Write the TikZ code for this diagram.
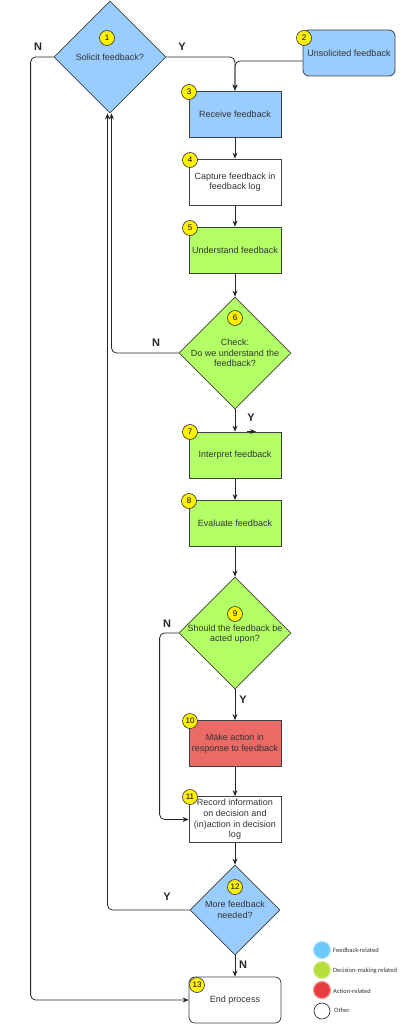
\documentclass[tikz,border=0pt]{standalone}
\usepackage{fontspec}
\setmainfont{Liberation Sans}
\newfontfamily\legendfont{Carlito}
\usetikzlibrary{shapes.geometric,arrows.meta,calc}
\definecolor{fbblue}{HTML}{99CCFF}
\definecolor{dmgreen}{HTML}{B3FF66}
\definecolor{actred}{HTML}{EA6B66}
\definecolor{txtgray}{HTML}{333333}
\definecolor{lgblue}{HTML}{6CC8FA}
\definecolor{lggreen}{HTML}{B5E03A}
\definecolor{lgred}{HTML}{E63E3E}
\begin{document}
\begin{tikzpicture}[x=1pt,y=-1pt,
  box/.style={draw=black!75, line width=0.8pt, minimum width=92pt, minimum height=46pt, inner sep=1pt, align=center, font=\fontsize{9}{10.6}\selectfont, text=txtgray},
  rbox/.style={box, rounded corners=6pt},
  dia/.style={diamond, draw=black!75, line width=0.8pt, inner sep=0pt, minimum width=#1, minimum height=#1},
  dtxt/.style={align=center, inner sep=0pt, font=\fontsize{9}{10.6}\selectfont, text=txtgray},
  numc/.style={circle, draw=black!80, line width=0.6pt, fill=yellow, inner sep=0pt, minimum size=15pt, font=\fontsize{8}{8}\selectfont},
  lbl/.style={inner sep=0pt, font=\fontsize{11}{11}\selectfont\bfseries, text=black!85},
  conn/.style={draw=black!85, line width=0.8pt, rounded corners=5pt},
  arr/.style={conn, -{Stealth[length=6pt,width=5pt]}},
  legc/.style={circle, inner sep=0pt, minimum size=17pt, line width=1.2pt},
  legt/.style={anchor=west, inner sep=0pt, font=\legendfont\fontsize{6.5}{7}\selectfont, text=black!80}
]
\useasboundingbox (0,0) rectangle (404,1024);

% nodes
\node[dia=112, fill=fbblue] (d1) at (110,57) {};
\node[dtxt] (t1) at (110,57) {Solicit feedback?};
\node[rbox, fill=fbblue] (b2) at (349,53) {Unsolicited feedback};
\node[box, fill=fbblue] (b3) at (235,114) {Receive feedback};
\node[box, fill=white] (b4) at (235,182) {Capture feedback in\\feedback log};
\node[box, fill=dmgreen] (b5) at (235,250) {Understand feedback};
\node[dia=112, fill=dmgreen] (d6) at (235,353) {};
\node[dtxt] (t6) at (235,353) {Check:\\Do we understand the\\feedback?};
\node[box, fill=dmgreen] (b7) at (235,455) {Interpret feedback};
\node[box, fill=dmgreen] (b8) at (235,523.5) {Evaluate feedback};
\node[dia=112, fill=dmgreen] (d9) at (235,633) {};
\node[dtxt] (t9) at (235,634) {Should the feedback be\\acted upon?};
\node[box, fill=actred] (b10) at (235,743.5) {Make action in\\response to feedback};
\node[box, fill=white] (b11) at (235,819.5) {Record information\\on decision and\\(in)action in decision\\log};
\node[dia=90, fill=fbblue] (d12) at (235,910) {};
\node[dtxt] (t12) at (235,910) {More feedback\\needed?};
\node[rbox, fill=white] (b13) at (235,1000) {End process};

% connectors
\draw[arr] (d1.east) -| (b3.north);
\draw[arr] ($(b2.west)+(0,8)$) -| (b3.north);
\draw[arr] (b3.south) -- (b4.north);
\draw[arr] (b4.south) -- (b5.north);
\draw[arr] (b5.south) -- (d6.north);
\draw[arr] (d6.south) -- (b7.north);
\draw[arr] (b7.south) -- (b8.north);
\draw[arr] (b8.south) -- (d9.north);
\draw[arr] (d9.south) -- (b10.north);
\draw[arr] (b10.south) -- (b11.north);
\draw[arr] (b11.south) -- (d12.north);
\draw[arr] (d12.south) -- (b13.north);
\draw[arr] (d6.west) -| ($(d1.south)+(1.5,0)$);
\draw[arr] (d12.west) -| ($(d1.south)+(-2.5,0)$);
\draw[arr] (d1.west) -- ++(-23,0) |- (b13.west);
\draw[arr] (d9.west) -- ++(-19,0) |- (b11.west);
\coordinate (s1) at ($(b7.north)+(12,0)$);
\coordinate (s2) at ($(b7.north)+(21,0)$);
\draw[arr] (s1) -- (s2);

% number badges
\node[numc] (n1) at (107,38) {1};
\node[numc] (n2) at (304,38) {2};
\node[numc] (n3) at (189,92) {3};
\node[numc] (n4) at (190,160) {4};
\node[numc] (n5) at (190,228) {5};
\node[numc] (n6) at (235,318) {6};
\node[numc] (n7) at (190,432) {7};
\node[numc] (n8) at (189,501) {8};
\node[numc] (n9) at (235,614) {9};
\node[numc] (n10) at (190,721) {10};
\node[numc] (n11) at (190,797) {11};
\node[numc] (n12) at (235,887) {12};
\node[numc] (n13) at (197,985) {13};

% edge labels
\node[lbl] (l1n) at (38,47) {N};
\node[lbl] (l1y) at (182,47) {Y};
\node[lbl] (l6n) at (156,343) {N};
\node[lbl] (l6y) at (251,418) {Y};
\node[lbl] (l9n) at (167,624) {N};
\node[lbl] (l9y) at (243,700) {Y};
\node[lbl] (l12y) at (167,897) {Y};
\node[lbl] (l12n) at (243,965) {N};

% legend
\node[legc, fill=lgblue, draw=lgblue!55] (lc1) at (322,950) {};
\node[legc, fill=lggreen, draw=lggreen!55] (lc2) at (322,970) {};
\node[legc, fill=lgred, draw=lgred!55] (lc3) at (322,990) {};
\node[legc, fill=white, draw=black!80, line width=0.7pt, minimum size=16pt] (lc4) at (322,1011) {};
\node[legt] (lt1) at (333,950) {Feedback-related};
\node[legt] (lt2) at (333,971) {Decision-making related};
\node[legt] (lt3) at (333,991) {Action-related};
\node[legt] (lt4) at (334,1010) {Other};
\end{tikzpicture}
\end{document}
